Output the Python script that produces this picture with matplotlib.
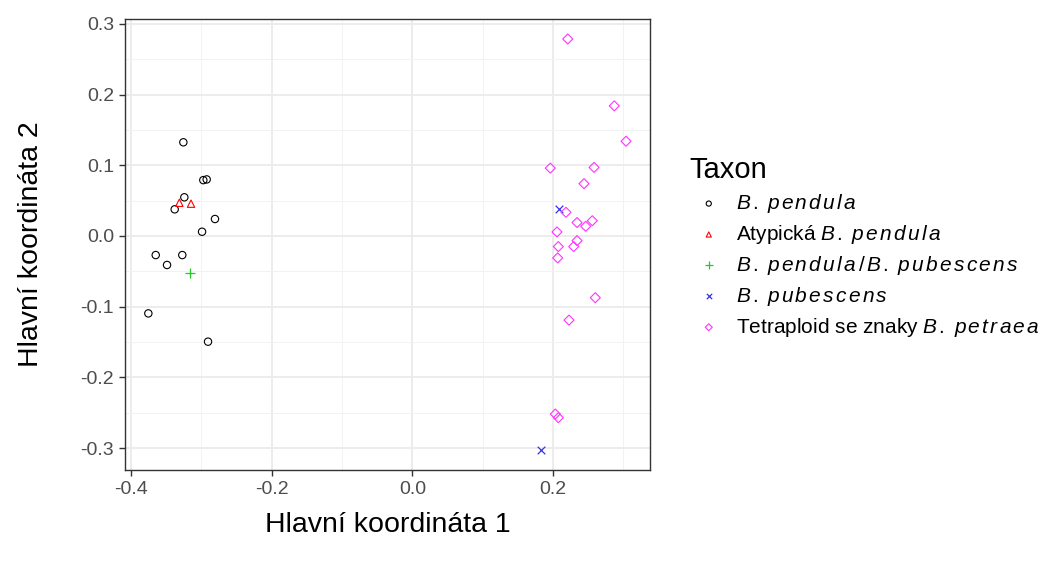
import numpy as np
import matplotlib.pyplot as plt
from matplotlib.ticker import MultipleLocator

plt.rcParams['font.family'] = ['Liberation Sans', 'DejaVu Sans']
plt.rcParams['mathtext.fontset'] = 'custom'
plt.rcParams['mathtext.it'] = 'Liberation Sans:italic'
plt.rcParams['mathtext.rm'] = 'Liberation Sans'

# Taxon groups (PCoA coordinates)
pendula_x = [-0.3257, -0.2973, -0.2925, -0.3243, -0.3380, -0.2807, -0.2991,
             -0.3650, -0.3272, -0.3489, -0.3755, -0.2906]
pendula_y = [0.1325, 0.079, 0.080, 0.0547, 0.0377, 0.024, 0.006, -0.027,
             -0.027, -0.041, -0.1095, -0.1495]

atyp_x = [-0.3314, -0.3148]
atyp_y = [0.047, 0.0457]

hybrid_x = [-0.3158]
hybrid_y = [-0.0528]

pubescens_x = [0.2083, 0.1835]
pubescens_y = [0.0377, -0.3027]

tetra_x = [0.2211, 0.2873, 0.3040, 0.1963, 0.2585, 0.2442, 0.2186, 0.2343,
           0.2467, 0.2560, 0.2058, 0.2343, 0.2296, 0.2077, 0.2068, 0.2603,
           0.2229, 0.2034, 0.2077]
tetra_y = [0.2786, 0.184, 0.134, 0.096, 0.097, 0.074, 0.0335, 0.019, 0.0137,
           0.0216, 0.0057, -0.0066, -0.015, -0.015, -0.031, -0.0873, -0.119,
           -0.2518, -0.257]


def ital(name):
    # spaced italic like R plotmath: "B. pendula"
    gen, sp = name.split(" ")
    gap = r"\hspace{0.13}"
    return gap.join(gen) + r"\ " + gap.join(sp)


labels = ["$" + ital("B. pendula") + "$",
          "Atypická $" + ital("B. pendula") + "$",
          "$" + ital("B. pendula") + r"\,/\," + ital("B. pubescens") + "$",
          "$" + ital("B. pubescens") + "$",
          "Tetraploid se znaky $" + ital("B. petraea") + "$"]

fig = plt.figure(figsize=(10.5, 5.63), dpi=100)
ax = fig.add_axes([125 / 1050, 1 - 470 / 563, 525 / 1050, 451 / 563])

kw = dict(s=28, linewidths=0.8)
h1 = ax.scatter(pendula_x, pendula_y, marker='o', facecolors='none', edgecolors='black', **kw)
h2 = ax.scatter(atyp_x, atyp_y, marker='^', facecolors='none', edgecolors='#FF0000', **kw)
h3 = ax.scatter(hybrid_x, hybrid_y, marker='+', color='#22CC22', s=60, linewidths=0.9)
h4 = ax.scatter(pubescens_x, pubescens_y, marker='x', color='#3333EE', s=30, linewidths=0.9)
h5 = ax.scatter(tetra_x, tetra_y, marker='D', facecolors='none', edgecolors='#FF33FF', s=26, linewidths=0.8)

ax.set_xlim(-0.4087, 0.3381)
ax.set_ylim(-0.331, 0.3069)
ax.xaxis.set_major_locator(MultipleLocator(0.2))
ax.xaxis.set_minor_locator(MultipleLocator(0.1))
ax.yaxis.set_major_locator(MultipleLocator(0.1))
ax.yaxis.set_minor_locator(MultipleLocator(0.05))
ax.xaxis.set_major_formatter(plt.FuncFormatter(lambda v, p: f"{v:.1f}"))
ax.yaxis.set_major_formatter(plt.FuncFormatter(lambda v, p: f"{v:.1f}"))

ax.grid(which='major', color='#EBEBEB', linewidth=1.3)
ax.grid(which='minor', color='#F2F2F2', linewidth=0.7)
ax.set_axisbelow(True)
for s in ax.spines.values():
    s.set_color('#333333')
    s.set_linewidth(1.0)
ax.tick_params(which='major', length=4, width=1, color='#333333', pad=4,
               labelsize=14, labelcolor='#4D4D4D')
ax.tick_params(which='minor', length=0)

ax.set_xlabel("Hlavní koordináta 1", fontsize=20.5, labelpad=10)
ax.set_ylabel("Hlavní koordináta 2", fontsize=20.5, labelpad=26)

leg = fig.legend([h1, h2, h3, h4, h5], labels, loc='upper left',
                 bbox_to_anchor=(0.639, 0.756), frameon=False, fontsize=15,
                 title="Taxon", title_fontsize=21, markerscale=0.7,
                 handletextpad=0.38, labelspacing=0.38, handlelength=1.83)
leg._legend_box.align = 'left'

fig.savefig("out.png", dpi=100)
